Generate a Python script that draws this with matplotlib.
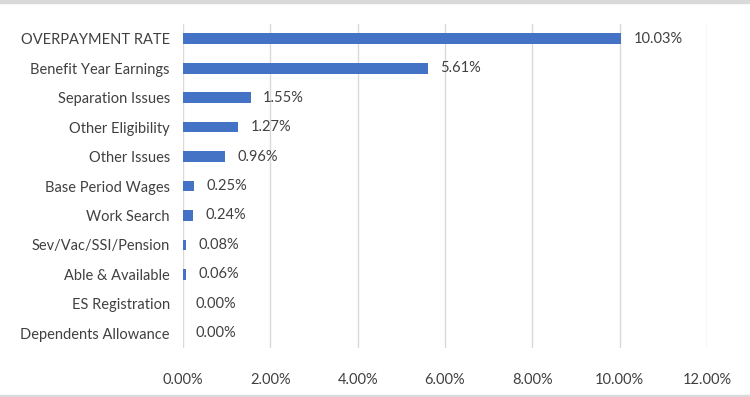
import matplotlib.pyplot as plt
from matplotlib.patches import Rectangle
from matplotlib.ticker import PercentFormatter

categories = ["OVERPAYMENT RATE", "Benefit Year Earnings", "Separation Issues",
              "Other Eligibility", "Other Issues", "Base Period Wages", "Work Search",
              "Sev/Vac/SSI/Pension", "Able & Available", "ES Registration",
              "Dependents Allowance"]
rates = [10.03, 5.61, 1.55, 1.27, 0.96, 0.25, 0.24, 0.08, 0.06, 0.00, 0.00]
xticks = [0, 2, 4, 6, 8, 10, 12]

plt.rcParams['font.family'] = ['Lato', 'DejaVu Sans']
txt = "#404040"

fig = plt.figure(figsize=(7.5, 3.97), dpi=100)
ax = fig.add_axes([0.244, 0.1234, 0.6987, 0.8161])

# light gray bands at top and bottom of the picture
fig.patches.append(Rectangle((0, 0.992), 1, 0.02, transform=fig.transFigure,
                             color="#d9d9d9", zorder=0))
fig.patches.append(Rectangle((0, 0), 1, 0.006, transform=fig.transFigure,
                             color="#d9d9d9", zorder=0))

pos = list(range(len(categories)))
ax.barh(pos, rates, height=0.36, color="#4472C4", zorder=3)
for p, r in zip(pos, rates):
    ax.annotate(f"{r:.2f}%", (r, p), xytext=(9, 0), textcoords="offset points",
                va="center", ha="left", fontsize=10.5, color=txt)

ax.set_ylim(len(categories) - 0.5, -0.5)
ax.set_xlim(0, 12)
ax.set_xticks(xticks)
ax.xaxis.set_major_formatter(PercentFormatter(decimals=2))
ax.set_yticks(pos)
ax.set_yticklabels(categories)
ax.grid(axis="x", color="#d9d9d9", linewidth=1, zorder=0)
for s in ax.spines.values():
    s.set_visible(False)
ax.tick_params(length=0, labelsize=10.5, labelcolor=txt)
ax.tick_params(axis="x", pad=18)
ax.tick_params(axis="y", pad=9.5)

fig.savefig("out.png", dpi=100)
